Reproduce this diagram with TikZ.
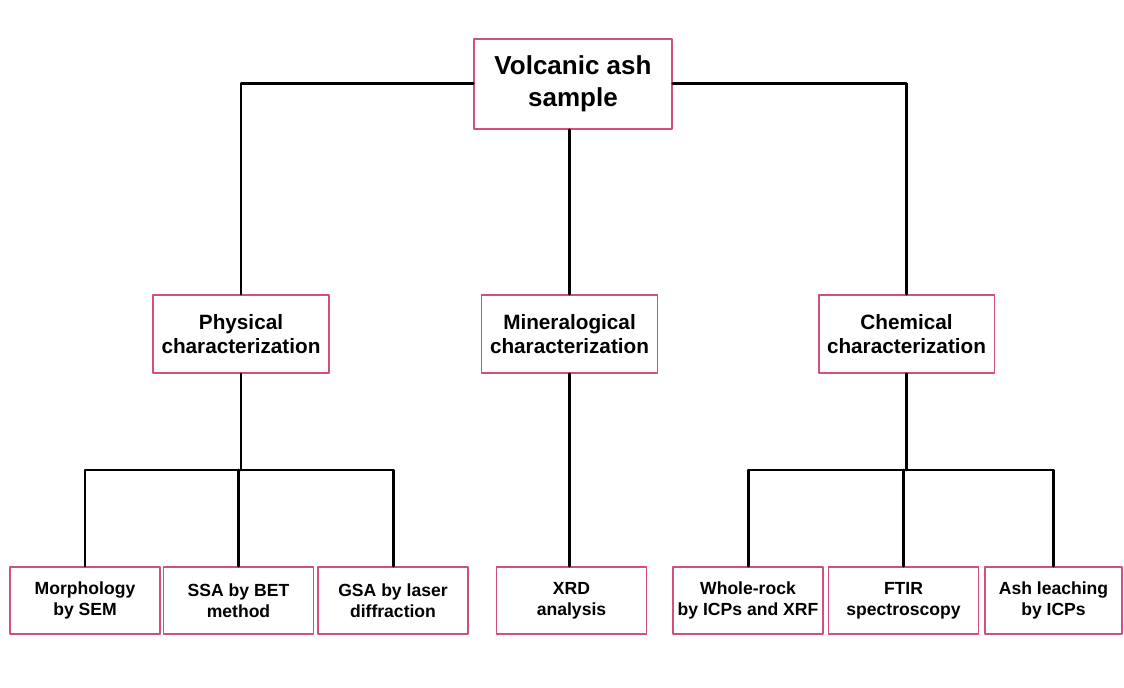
\documentclass[tikz,border=0pt]{standalone}
\usepackage{fontspec}
\setmainfont{Liberation Sans}
\definecolor{boxpink}{RGB}{212,78,122}
\begin{document}
\begin{tikzpicture}[x=0.02cm,y=-0.02cm,line cap=round,line join=round,
    box/.style={draw=boxpink,line width=1.1pt,fill=white,align=center,inner sep=0pt},
    rootbox/.style={box,minimum width=3.96cm,minimum height=1.8cm,font=\bfseries\fontsize{14.8}{18.4}\selectfont},
    groupbox/.style={box,minimum width=3.52cm,minimum height=1.56cm,font=\bfseries\fontsize{11.8}{13.8}\selectfont},
    leafbox/.style={box,minimum width=3cm,minimum height=1.34cm,font=\bfseries\fontsize{10}{12}\selectfont},
    link/.style={line width=1.7pt}]
  \useasboundingbox (0,0) rectangle (1124,688);
  \def\busy{470}

  \node[rootbox] (ash) at (573,84) {Volcanic ash\\sample};

  \node[groupbox] (phys) at (241,334) {Physical\\characterization};
  \node[groupbox] (mineral) at (569.5,334) {Mineralogical\\characterization};
  \node[groupbox] (chem) at (906.5,334) {Chemical\\characterization};

  \node[leafbox] (morph) at (85,600.5) {Morphology\\by SEM};
  \node[leafbox] (ssa) at (238.5,600.5) {SSA by BET\\method};
  \node[leafbox] (gsa) at (393,600.5) {GSA by laser\\diffraction};
  \node[leafbox] (xrd) at (571.5,600.5) {XRD\\analysis};
  \node[leafbox] (whole) at (748,600.5) {Whole-rock\\by ICPs and XRF};
  \node[leafbox] (ftir) at (903.5,600.5) {FTIR\\spectroscopy};
  \node[leafbox,minimum width=2.74cm] (leach) at (1053.5,600.5) {Ash leaching\\by ICPs};

  % root to groups
  \draw[link] (ash.west) -| (phys.north);
  \draw[link] (ash.east) -| (chem.north);
  \draw[link] (mineral.north |- ash.south) -- (mineral.north);

  % groups to methods
  \draw[link] (phys.south) -- (phys.south |- 0,\busy) coordinate (pbus);
  \draw[link] (morph.north) |- (pbus) -| (gsa.north);
  \draw[link] (ssa.north) -- (ssa.north |- pbus);
  \draw[link] (mineral.south) -- (mineral.south |- xrd.north);
  \draw[link] (chem.south) -- (chem.south |- 0,\busy) coordinate (cbus);
  \draw[link] (whole.north) |- (cbus) -| (leach.north);
  \draw[link] (ftir.north) -- (ftir.north |- cbus);
\end{tikzpicture}
\end{document}
